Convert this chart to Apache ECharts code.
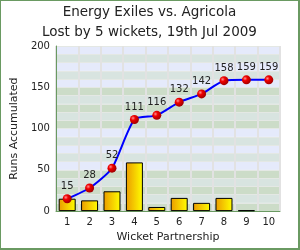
<!DOCTYPE html>
<html>
<head>
<meta charset="utf-8">
<script src="https://cdn.jsdelivr.net/npm/echarts@6/dist/echarts.min.js"></script>
<style>
html, body { margin: 0; padding: 0; background: #fff; }
#chart {
  width: 300px;
  height: 250px;
  box-sizing: border-box;
  border-top: 1px solid #6a9a62;
  border-left: 1px solid #6a9a62;
  border-right: 2px solid #6a9a62;
  border-bottom: 2px solid #6a9a62;
}
</style>
</head>
<body>
<div id="chart"></div>
<script>
var wickets = ['1', '2', '3', '4', '5', '6', '7', '8', '9', '10']
var partnership = [15, 13, 24, 59, 5, 16, 10, 16, 1, 0]
var accumulated = [15, 28, 52, 111, 116, 132, 142, 158, 159, 159]
var yTicks = [0, 50, 100, 150, 200]

var font = 'DejaVu Sans'
var green = '#ccdcc8'
var grey = '#d8e4e0'
var blue = '#e5eafb'
// bands of 10 runs, from 0 upward
var bandColors = [
  green, grey, green, grey, green,
  blue, grey, blue, grey, blue,
  green, grey, green, grey, green,
  blue, grey, blue, grey, blue
]

// a zero partnership draws no bar at all
var barData = partnership.map(function (v) { return v === 0 ? '-' : v })

var chart = echarts.init(document.getElementById('chart'))
chart.setOption({
  animation: false,
  title: {
    text: 'Energy Exiles vs. Agricola\nLost by 5 wickets, 19th Jul 2009',
    left: 'center',
    top: 1,
    padding: 0,
    textStyle: {
      color: '#222',
      fontWeight: 'normal',
      fontSize: 13.5,
      lineHeight: 20,
      fontFamily: font
    }
  },
  grid: {
    left: 40,
    right: 18,
    top: 45,
    bottom: 33
  },
  xAxis: {
    type: 'category',
    data: wickets,
    boundaryGap: true,
    name: 'Wicket Partnership',
    nameLocation: 'middle',
    nameGap: 19,
    nameTextStyle: { color: '#222', fontSize: 11, fontFamily: font },
    axisLine: { lineStyle: { color: '#6a9a62', width: 1 } },
    axisTick: { show: false },
    axisLabel: { color: '#222', fontSize: 10, fontFamily: font, margin: 6 },
    splitLine: { show: true, interval: 0, lineStyle: { color: '#e2e2e2', width: 2 } }
  },
  yAxis: [
    {
      type: 'value',
      min: 0,
      max: 200,
      interval: 50,
      name: 'Runs Accumulated',
      nameLocation: 'middle',
      nameGap: 29,
      nameTextStyle: { color: '#222', fontSize: 11, fontFamily: font },
      axisLine: { show: true, lineStyle: { color: '#6a9a62', width: 1 } },
      axisTick: { show: false },
      axisLabel: {
        color: '#222',
        fontSize: 10,
        fontFamily: font,
        margin: 6,
        formatter: function (v) { return yTicks.indexOf(v) >= 0 ? v : '' }
      },
      splitLine: { show: false }
    },
    {
      type: 'value',
      min: 0,
      max: 200,
      interval: 10,
      position: 'left',
      axisLine: { show: false },
      axisTick: { show: false },
      axisLabel: { show: false },
      splitLine: { show: true, lineStyle: { color: '#e4e8e4', width: 1 } },
      splitArea: { show: true, areaStyle: { color: bandColors } }
    }
  ],
  series: [
    {
      name: 'Partnership',
      type: 'bar',
      data: barData,
      barWidth: 17,
      itemStyle: {
        color: new echarts.graphic.LinearGradient(0, 0, 1, 0, [
          { offset: 0, color: '#eb9a00' },
          { offset: 1, color: '#ffff00' }
        ]),
        borderColor: '#000',
        borderWidth: 1
      }
    },
    {
      name: 'Accumulated',
      type: 'line',
      data: accumulated,
      smooth: 0.2,
      symbol: 'circle',
      symbolSize: 9,
      z: 5,
      lineStyle: { color: '#0000ff', width: 2 },
      itemStyle: {
        color: new echarts.graphic.RadialGradient(0.35, 0.35, 0.7, [
          { offset: 0, color: '#ff9090' },
          { offset: 0.35, color: '#f00000' },
          { offset: 1, color: '#9a0000' }
        ])
      },
      label: {
        show: true,
        position: 'top',
        distance: 3,
        color: '#222',
        fontSize: 10,
        fontFamily: font
      }
    }
  ]
})
</script>
</body>
</html>
